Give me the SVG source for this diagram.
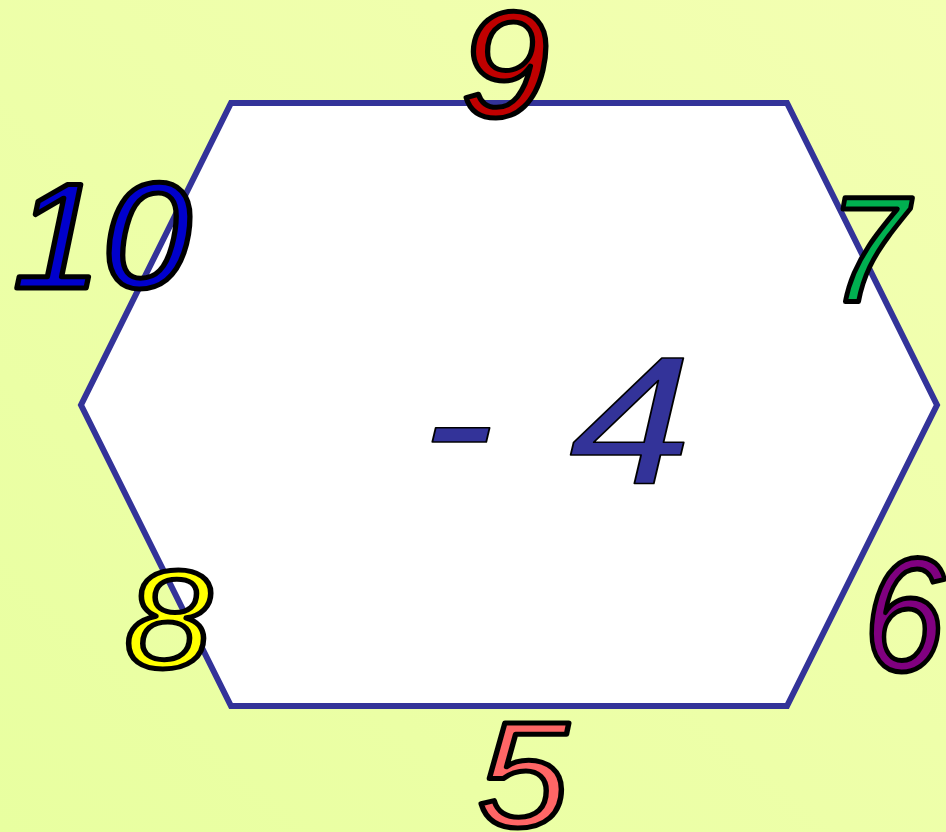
<svg xmlns="http://www.w3.org/2000/svg" width="946" height="832" viewBox="0 0 946 832">
<defs>
<linearGradient id="bg" x1="1" y1="0" x2="0" y2="1">
<stop offset="0" stop-color="#f3ffb2"/>
<stop offset="1" stop-color="#e8ffa0"/>
</linearGradient>
<style>
.num{font-family:"Liberation Sans",Arial,sans-serif;font-style:italic;font-size:150px;stroke:#000;stroke-width:5;stroke-linejoin:round;text-anchor:middle}
.center{font-family:"Liberation Sans",Arial,sans-serif;font-style:italic;font-size:181px;fill:#333399;stroke:#000;stroke-width:1.5;stroke-linejoin:round}
.hex{fill:#fff;stroke:#333399;stroke-width:6;stroke-linejoin:miter}
</style>
</defs>
<rect width="946" height="832" fill="url(#bg)"/>
<g id="hexagon">
<polygon class="hex" points="231,103 787,103 937,405 787,706 231,706 81,405"/>
</g>
<g id="center-value">
<text class="center" transform="translate(421,483) scale(1.22,1)" x="0" y="0">-<tspan dx="11"> 4</tspan></text>
</g>
<g id="n9"><text class="num" transform="translate(505,117) scale(1.06,1)" fill="#c00000">9</text></g>
<g id="n10"><text class="num" transform="translate(102,288) scale(1.07,1)" fill="#0000cc">10</text></g>
<g id="n7"><text class="num" transform="translate(868,301) scale(0.96,1)" fill="#00b050">7</text></g>
<g id="n8"><text class="num" transform="translate(168,668) scale(1.12,1)" style="font-size:140px" fill="#ffff00">8</text></g>
<g id="n6"><text class="num" transform="translate(904,670) scale(0.9,1)" style="font-size:162px" fill="#800080">6</text></g>
<g id="n5"><text class="num" transform="translate(523,827) scale(1.09,1)" fill="#ff6666">5</text></g>
<g id="connectors"></g>
</svg>
